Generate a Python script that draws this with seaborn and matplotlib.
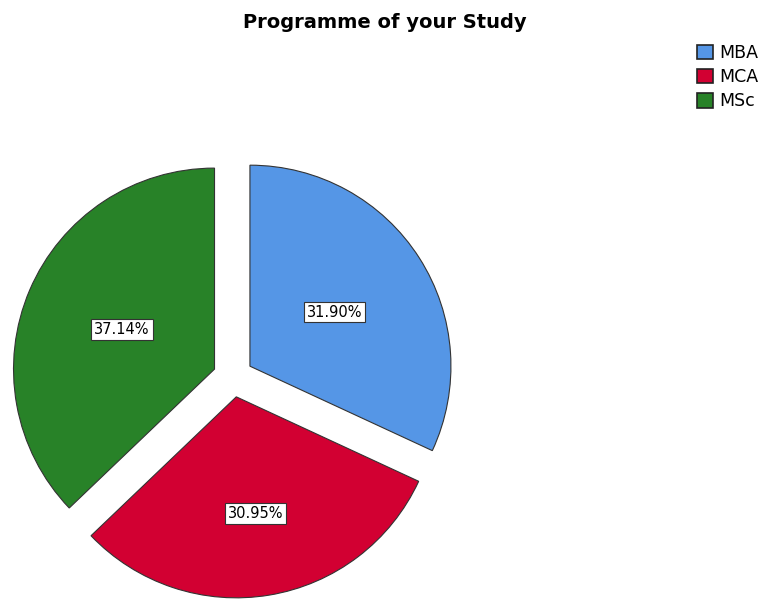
import matplotlib
matplotlib.use("Agg")
import numpy as np
import matplotlib.pyplot as plt
import seaborn as sns

# Data
programmes = ["MBA", "MCA", "MSc"]
percentages = [31.90, 30.95, 37.14]
colors = ["#5596E6", "#D20032", "#288228"]

sns.set_theme(style="white")
plt.rcParams["font.family"] = ["DejaVu Sans"]
plt.rcParams["text.color"] = "black"

fig = plt.figure(figsize=(7.69, 6.01), dpi=100)
ax = fig.add_axes([0, 0, 1, 1])

wedges, texts, autotexts = ax.pie(
    percentages,
    colors=colors,
    startangle=90,
    counterclock=False,
    explode=[0.1] * len(percentages),
    autopct="%.2f%%",
    pctdistance=0.5,
    wedgeprops=dict(edgecolor="#333333", linewidth=0.8),
    textprops=dict(fontsize=10.5, color="black"),
)
for t in autotexts:
    t.set_bbox(dict(boxstyle="square,pad=0.2", facecolor="white",
                    edgecolor="#333333", linewidth=0.8))

# the MCA label sits a bit further out along its bisector
w = wedges[1]
ang = np.deg2rad((w.theta1 + w.theta2) / 2)
x, y = autotexts[1].get_position()
autotexts[1].set_position((x + 0.09 * np.cos(ang), y + 0.09 * np.sin(ang)))

# place the pie: centre ~ (233, 377) px, radius ~ 201 px
r_px = 201.0
cx, cy = 233.0, 377.0
ax.set_xlim(-cx / r_px, (769 - cx) / r_px)
ax.set_ylim(-(601 - cy) / r_px, cy / r_px)
ax.set_aspect("equal")
ax.axis("off")

fig.suptitle("Programme of your Study", x=0.5, y=0.978,
             fontsize=14, fontweight="bold", color="black")

leg = fig.legend(
    wedges, programmes,
    loc="upper left", bbox_to_anchor=(0.907, 0.927),
    frameon=False, fontsize=12.5, labelcolor="black",
    handlelength=0.92, handleheight=0.92, handletextpad=0.35,
    labelspacing=0.36, borderpad=0, borderaxespad=0,
)
for h in leg.legend_handles:
    h.set_edgecolor("#222222")
    h.set_linewidth(1.2)

fig.savefig("out.png", dpi=100)
